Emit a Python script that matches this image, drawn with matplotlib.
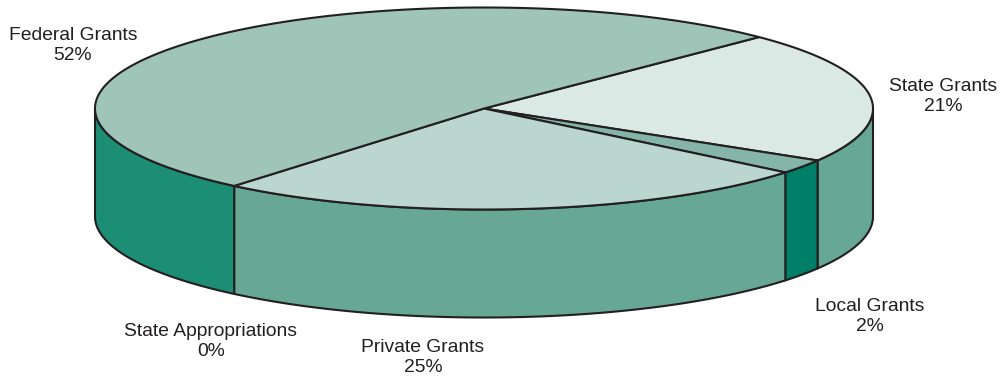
"""
Funding sources shown as a flat 3D pie (drawn by hand, matplotlib has no 3D pie).
"""
import numpy as np
import matplotlib
matplotlib.use("Agg")
import matplotlib.pyplot as plt
from matplotlib.patches import Polygon

plt.rcParams['font.family'] = ['Liberation Sans', 'DejaVu Sans']

# ==========================================
# DATA (clockwise from the upper right)
# ==========================================
categories = ['State Grants', 'Local Grants', 'Private Grants', 'State Appropriations', 'Federal Grants']
shown_pct = [21, 2, 25, 0, 52]
slice_shares = [21.1, 2.3, 25.2, 0.0, 51.4]

top_colors = ['#DAE9E4', '#85B5A8', '#BAD6CE', '#1B8E75', '#9FC5B9']
side_colors = ['#66A795', '#007F68', '#66A795', '#1B8E75', '#1B8E75']

# ==========================================
# GEOMETRY (pixels)
# ==========================================
CX, CY = 484, 108.5
RX, RY = 389, 101
DEPTH = 108
START = 45
EDGE = '#231F20'
LW = 1.5

label_pos = {
    'State Grants': (943, 96.5),
    'Local Grants': (870, 316.5),
    'Private Grants': (423, 357.5),
    'State Appropriations': (211, 341.5),
    'Federal Grants': (73, 45.5),
}


def rim(a, b, n=200):
    t = np.radians(np.linspace(a, b, n))
    return np.column_stack([CX + RX * np.cos(t), CY - RY * np.sin(t)])


fig, ax = plt.subplots(figsize=(10, 3.76), dpi=100)
ax.set_position([0, 0, 1, 1])
ax.set_xlim(0, 1000)
ax.set_ylim(376, 0)
ax.axis('off')

# slice angle ranges, going clockwise
sweeps = np.array(slice_shares) / sum(slice_shares) * 360
starts = START - np.concatenate([[0], np.cumsum(sweeps)[:-1]])
ends = starts - sweeps

# outer wall: only the part on the front half of the rim is visible
for a, b, col in zip(starts, ends, side_colors):
    for shift in (0, -360):
        hi = min(a - shift, 360) if shift else min(a, 360)
        lo = max(b - shift, 180) if shift else max(b, 180)
        if hi - lo <= 0:
            continue
        upper = rim(hi, lo)
        lower = upper[::-1] + [0, DEPTH]
        ax.add_patch(Polygon(np.vstack([upper, lower]), closed=True,
                             facecolor=col, edgecolor=EDGE, lw=LW, joinstyle='round'))

# top face
for a, b, col in zip(starts, ends, top_colors):
    if a - b <= 0:
        continue
    pts = np.vstack([[CX, CY], rim(a, b)])
    ax.add_patch(Polygon(pts, closed=True, facecolor=col, edgecolor=EDGE,
                         lw=LW, joinstyle='round'))

for name, pct in zip(categories, shown_pct):
    x, y = label_pos[name]
    ax.text(x, y, f"{name}\n{pct}%", ha='center', va='center', fontsize=13.9,
            color='#231F20', linespacing=1.3)

fig.savefig("out.png", dpi=100)
